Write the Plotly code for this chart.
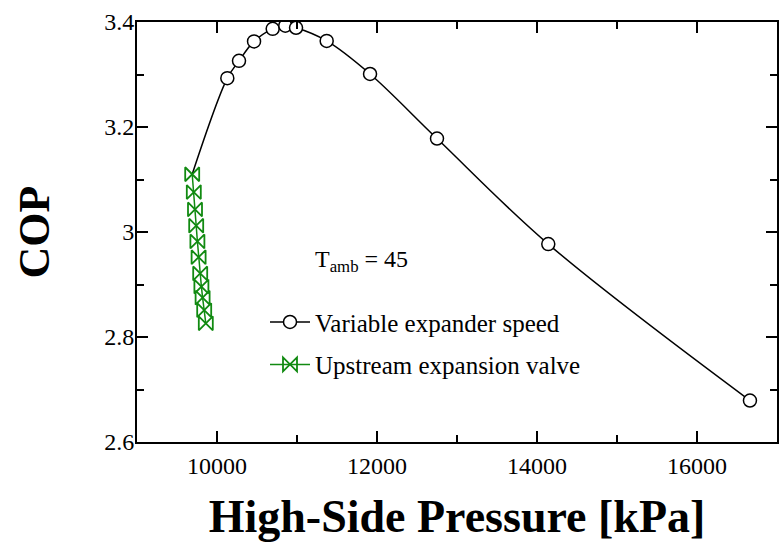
import plotly.graph_objects as go

# Variable expander speed (open circles)
pressure_exp = [10129, 10275, 10463, 10696, 10854, 10988, 11371, 11913, 12750, 14141, 16662]
cop_exp = [3.293, 3.326, 3.363, 3.387, 3.393, 3.389, 3.364, 3.301, 3.178, 2.977, 2.679]

# Upstream expansion valve (green bowties)
pressure_valve = [9690, 9710, 9725, 9740, 9755, 9770, 9790, 9805, 9820, 9840, 9860]
cop_valve = [3.110, 3.076, 3.043, 3.012, 2.982, 2.952, 2.921, 2.896, 2.875, 2.851, 2.826]

x_ticks = [10000, 12000, 14000, 16000]
y_ticks = [2.6, 2.8, 3.0, 3.2, 3.4]

FONT = "Liberation Serif"
GREEN = "#118a11"

fig = go.Figure()

# smooth curve (starts at the valve curve's first point)
fig.add_trace(go.Scatter(
    x=[pressure_valve[0]] + pressure_exp, y=[cop_valve[0]] + cop_exp,
    mode="lines", line=dict(color="black", width=1.5, shape="spline"),
    showlegend=False, hoverinfo="skip"))

fig.add_trace(go.Scatter(
    x=pressure_valve, y=cop_valve, mode="lines+markers",
    line=dict(color=GREEN, width=1.5),
    marker=dict(symbol="bowtie-open", size=14, color=GREEN, line=dict(width=1.8, color=GREEN)),
    showlegend=False))

fig.add_trace(go.Scatter(
    x=pressure_exp, y=cop_exp, mode="markers",
    marker=dict(symbol="circle", size=13, color="white", line=dict(color="black", width=1.5)),
    showlegend=False))

# legend entries
fig.add_trace(go.Scatter(
    x=[None], y=[None], mode="lines+markers", name="Variable expander speed",
    line=dict(color="black", width=1.5),
    marker=dict(symbol="circle", size=13, color="white", line=dict(color="black", width=1.5)),
    legendgroup="a"))
fig.add_trace(go.Scatter(
    x=[None], y=[None], mode="lines+markers", name="Upstream expansion valve",
    line=dict(color=GREEN, width=1.5),
    marker=dict(symbol="bowtie-open", size=14, color=GREEN, line=dict(width=1.8, color=GREEN)),
    legendgroup="b"))

fig.add_annotation(x=11200, y=2.945, xref="x", yref="y", xanchor="left", yanchor="middle",
                   text="T<sub>amb</sub> = 45", showarrow=False,
                   font=dict(family=FONT, size=24, color="black"))

axis_common = dict(showline=True, linewidth=2, linecolor="black", mirror="allticks",
                   ticks="inside", ticklen=11, tickwidth=1.5, tickcolor="black",
                   showgrid=False, zeroline=False, automargin=False)

fig.update_xaxes(range=[9000, 17000], tickvals=x_ticks, ticktext=[str(v) for v in x_ticks],
                 ticklabelstandoff=1,
                 tickfont=dict(family=FONT, size=24, color="black"),
                 minor=dict(ticks="inside", ticklen=7, dtick=1000, tick0=9000, tickcolor="black", tickwidth=1.5),
                 title=dict(text="<b>High-Side Pressure [kPa]</b>", font=dict(family=FONT, size=46, color="black"), standoff=22),
                 **axis_common)
fig.update_yaxes(range=[2.6, 3.4], tickvals=y_ticks, ticktext=["2.6", "2.8", "3", "3.2", "3.4"],
                 ticklabelstandoff=-4,
                 tickfont=dict(family=FONT, size=24, color="black"),
                 minor=dict(ticks="inside", ticklen=7, dtick=0.1, tick0=2.6, tickcolor="black", tickwidth=1.5),
                 title=dict(text="<b>COP</b>", font=dict(family=FONT, size=44, color="black"), standoff=41),
                 **axis_common)

fig.update_layout(
    width=783, height=555,
    margin=dict(l=137, r=6, t=22, b=113),
    plot_bgcolor="white", paper_bgcolor="white",
    font=dict(family=FONT, color="black"),
    legend=dict(x=0.2, y=0.34, xanchor="left", yanchor="top", xref="paper", yref="paper",
                font=dict(family=FONT, size=25, color="black"), bgcolor="rgba(0,0,0,0)",
                tracegroupgap=7, itemwidth=40),
)

fig.write_html("out.html", config={"displayModeBar": False},
               post_script="document.body.style.margin='0';")
